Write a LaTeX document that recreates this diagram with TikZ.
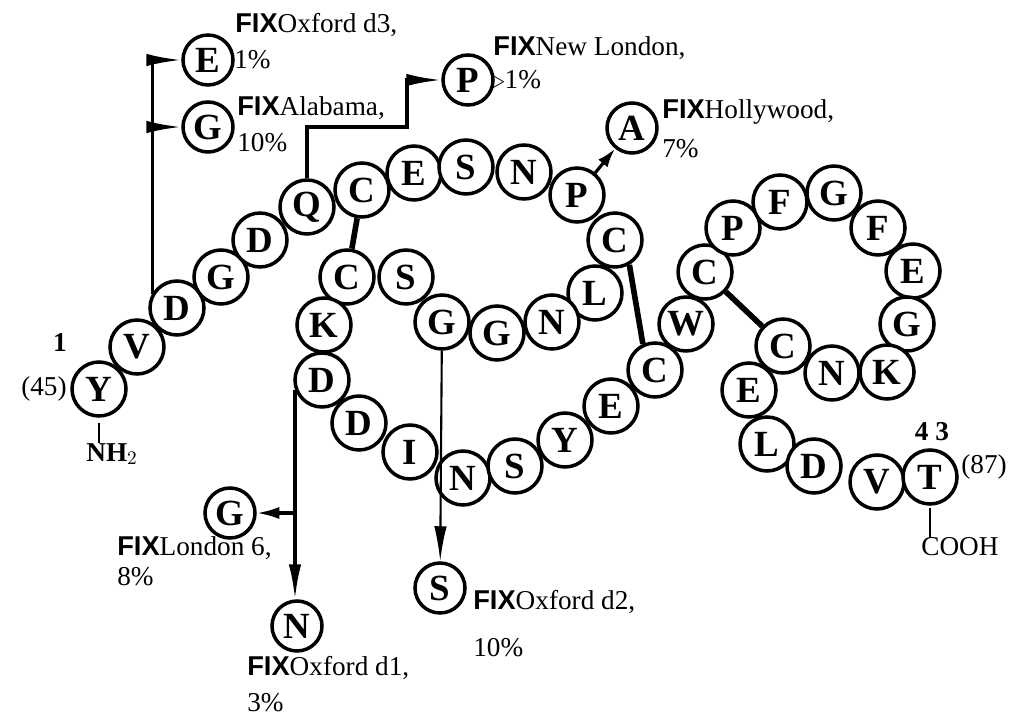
\documentclass[tikz,border=0pt]{standalone}
\usepackage{fontspec}
\setmainfont{Liberation Serif}
\setsansfont{Liberation Sans}
\usetikzlibrary{arrows.meta}

\tikzset{
  res/.style={circle, draw, fill=white, line width=2pt, minimum size=1.08cm,
    inner sep=0pt, font=\fontsize{21}{21}\selectfont\bfseries},
  mutres/.style={res, minimum size=1cm},
  ssbond/.style={line width=3.2pt},
  mut/.style={line width=1.8pt, -{Latex[length=0.7cm,width=0.25cm]}},
  lbl/.style={inner sep=0pt, anchor=west, font=\fontsize{15.5}{17}\selectfont},
  tick/.style={line width=1.6pt},
}
\newcommand{\fix}{\textsf{\bfseries FIX}}

\begin{document}
\begin{tikzpicture}[x=0.02cm, y=-0.02cm]
\useasboundingbox (0,0) rectangle (1016,719);

% EGF-like domain, residues 1--43
\foreach \aa/\n/\px/\py in {Y/1/99/389, V/2/137/347, D/3/177/308, G/4/221/277,
    D/5/260/240, Q/6/307/207, C/7/362/190, E/8/414/173, S/9/466/167,
    N/10/524/172, P/11/577/195, C/12/615/240, L/13/595/293, N/14/552/322,
    G/15/497/333, G/16/442/322, S/17/406/277, C/18/347/277, K/19/324/325,
    D/20/322/380, D/21/359/423, I/22/410/452, N/23/463/478, S/24/515/466,
    Y/25/565/440, E/26/611/406, C/27/655/370, W/28/686/324, C/29/705/272,
    P/30/733/228, F/31/780/202, G/32/834/193, F/33/878/228, E/34/913/271,
    G/35/907/324, K/36/887/372, N/37/832/373, C/38/783/346, E/39/749/390,
    L/40/767/444, D/41/814/466, V/42/877/482, T/43/930/477}
  \node[res] (\aa\n) at (\px,\py) {\aa};

% disulfide bridges
\draw[ssbond] (C7) -- (C18);
\draw[ssbond] (C12.-60) -- (C27.115);
\draw[ssbond] (C29) -- (C38);

% ends of the chain
\node[lbl, anchor=center] (first) at (60,343) {\bfseries 1};
\node[lbl, anchor=east] (nnum) at (67,389) {(45)};
\node[lbl, anchor=north west] (nh2) at (86,443) {\textbf{NH}$_2$};
\draw[tick] (Y1.south) ++(0,5) -- (Y1.south |- nh2.north);
\node[lbl, anchor=center] (last) at (932,432) {\bfseries 4\ 3};
\node[lbl] (cnum) at (961,467) {(87)};
\node[lbl, anchor=north west] (cooh) at (921,537) {COOH};
\draw[tick] (T43.south) ++(0,2) -- (T43.south |- cooh.north);

% variant residues
\node[mutres] (Eox3) at (208,60) {E};
\node[mutres] (Gal) at (208,127) {G};
\node[mutres] (Pnl) at (468,80) {P};
\node[mutres] (Aho) at (632,128) {A};
\node[mutres] (Gl6) at (230,513) {G};
\node[mutres] (Nox1) at (297,626) {N};
\node[mutres] (Sox2) at (440,588) {S};

\draw[mut] (D3.150) |- (Eox3.west);
\draw[mut] (D3.150 |- Gal.west) -- (Gal.west);
\coordinate (qbend) at (407,127);
\draw[mut] (Q6.north) |- (qbend) |- (Pnl.west);
\draw[mut, -{Latex[length=0.38cm,width=0.24cm]}] (P11) -- (Aho);
\draw[mut, line width=1.2pt] (G16) -- (Sox2);
\draw[mut] (D20.200) -- (D20.200 |- Nox1.north);
\draw[mut, -{Latex[length=0.45cm,width=0.24cm]}] (D20.200 |- Gl6.east) -- (Gl6.east);

% variant names
\node[lbl] (tox3) at (235,25) {\fix Oxford d3,};
\node[lbl] (pox3) at (234,60) {1\%};
\node[lbl] (tal) at (237,108) {\fix Alabama,};
\node[lbl] (pal) at (237,143) {10\%};
\node[lbl] (tnl) at (493,48) {\fix New London,};
\node[lbl] (pnl) at (492,80) {$\triangleright$1\%};
\node[lbl] (tho) at (662,112) {\fix Hollywood,};
\node[lbl] (pho) at (662,149) {7\%};
\node[lbl] (tl6) at (117,548) {\fix London 6,};
\node[lbl] (pl6) at (117,577) {8\%};
\node[lbl] (tox2) at (473,602) {\fix Oxford d2,};
\node[lbl] (pox2) at (473,648) {10\%};
\node[lbl] (tox1) at (247,668) {\fix Oxford d1,};
\node[lbl] (pox1) at (247,703) {3\%};
\end{tikzpicture}
\end{document}
